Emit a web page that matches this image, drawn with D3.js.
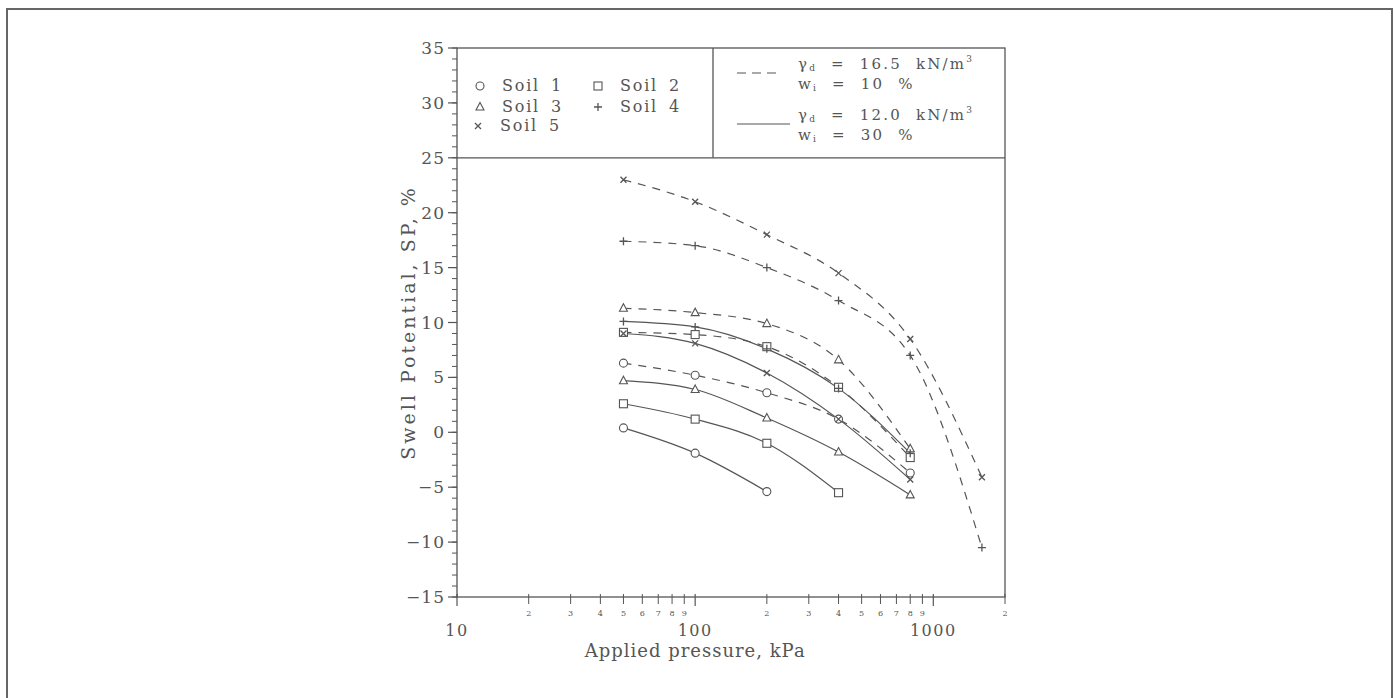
<!DOCTYPE html>
<html>
<head>
<meta charset="utf-8">
<script src="https://cdnjs.cloudflare.com/ajax/libs/d3/7.8.5/d3.min.js"></script>
<style>
  html, body { margin: 0; padding: 0; background: #fff; }
  svg text { font-family: "DejaVu Serif", "Liberation Serif", serif; fill: #555; }
</style>
</head>
<body>
<svg id="chart" width="1397" height="698"></svg>
<script>
// applied pressure (kPa)
var pressures = [50, 100, 200, 400, 800, 1600];

// dashed: gamma_d = 16.5 kN/m3, w_i = 10 %
var dashedSoil1 = [6.3, 5.2, 3.6, 1.2, -3.7];
var dashedSoil2 = [9.1, 8.9, 7.8, 4.1, -2.3];
var dashedSoil3 = [11.3, 10.9, 9.9, 6.6, -1.5];
var dashedSoil4 = [17.4, 17.0, 15.0, 12.0, 7.0, -10.5];
var dashedSoil5 = [23.0, 21.0, 18.0, 14.5, 8.5, -4.1];

// solid: gamma_d = 12.0 kN/m3, w_i = 30 %
var solidSoil1 = [0.4, -1.9, -5.4];
var solidSoil2 = [2.6, 1.2, -1.0, -5.5];
var solidSoil3 = [4.7, 3.9, 1.3, -1.8, -5.7];
var solidSoil4 = [10.1, 9.6, 7.6, 4.0, -1.9];
var solidSoil5 = [9.0, 8.1, 5.4, 1.2, -4.3];

var soilNames = ["Soil 1", "Soil 2", "Soil 3", "Soil 4", "Soil 5"];
var soilMarkers = ["circle", "square", "triangle", "plus", "cross"];

var yTicks = [-15, -10, -5, 0, 5, 10, 15, 20, 25, 30, 35];
var xMajor = [10, 100, 1000];
var xMinor = [20, 30, 40, 50, 60, 70, 80, 90, 200, 300, 400, 500, 600, 700, 800, 900, 2000];

var ink = "#555";

var svg = d3.select("#chart"),
  margin = { top: 48, right: 392, bottom: 101, left: 457 },
  width = +svg.attr("width") - margin.left - margin.right,
  height = +svg.attr("height") - margin.top - margin.bottom;

// outer page border
svg.append("rect")
  .attr("x", 7).attr("y", 9)
  .attr("width", 1385).attr("height", 700)
  .attr("fill", "none")
  .attr("stroke", "#666")
  .attr("stroke-width", 2);

var xScale = d3.scaleLog().domain([10, 2000]).range([0, width]);
var yScale = d3.scaleLinear().domain([-15, 35]).range([height, 0]);

var g = svg.append("g")
  .attr("transform", "translate(" + margin.left + "," + margin.top + ")");

// frame
g.append("rect")
  .attr("width", width).attr("height", height)
  .attr("fill", "none").attr("stroke", ink).attr("stroke-width", 1.3);

// legend box separators
g.append("line")
  .attr("x1", 0).attr("x2", width)
  .attr("y1", yScale(25)).attr("y2", yScale(25))
  .attr("stroke", ink).attr("stroke-width", 1.3);
g.append("line")
  .attr("x1", 256).attr("x2", 256)
  .attr("y1", 0).attr("y2", yScale(25))
  .attr("stroke", ink).attr("stroke-width", 1.3);

// y axis: major ticks with labels, minor ticks every 1
var yMinor = d3.range(-15, 36, 1);
g.selectAll(".ymin").data(yMinor).enter().append("line")
  .attr("x1", -5).attr("x2", 0)
  .attr("y1", function (d) { return yScale(d); })
  .attr("y2", function (d) { return yScale(d); })
  .attr("stroke", ink).attr("stroke-width", 1);
g.selectAll(".ymaj").data(yTicks).enter().append("line")
  .attr("x1", -9).attr("x2", 0)
  .attr("y1", function (d) { return yScale(d); })
  .attr("y2", function (d) { return yScale(d); })
  .attr("stroke", ink).attr("stroke-width", 1.2);
g.selectAll(".ylab").data(yTicks).enter().append("text")
  .attr("x", -12)
  .attr("y", function (d) { return yScale(d) + 6; })
  .attr("text-anchor", "end")
  .style("font-size", "17px")
  .style("letter-spacing", "1px")
  .text(function (d) { return d < 0 ? "\u2212" + Math.abs(d) : d; });

// x axis
g.selectAll(".xmin").data(xMinor).enter().append("line")
  .attr("x1", function (d) { return xScale(d); })
  .attr("x2", function (d) { return xScale(d); })
  .attr("y1", height - 3).attr("y2", height + 7)
  .attr("stroke", ink).attr("stroke-width", 1);
g.selectAll(".xmaj").data(xMajor).enter().append("line")
  .attr("x1", function (d) { return xScale(d); })
  .attr("x2", function (d) { return xScale(d); })
  .attr("y1", height - 3).attr("y2", height + 9)
  .attr("stroke", ink).attr("stroke-width", 1.2);
g.selectAll(".xminlab").data(xMinor).enter().append("text")
  .attr("x", function (d) { return xScale(d); })
  .attr("y", height + 19)
  .attr("text-anchor", "middle")
  .style("font-size", "8px")
  .text(function (d) { return String(d).charAt(0); });
g.selectAll(".xmajlab").data(xMajor).enter().append("text")
  .attr("x", function (d) { return xScale(d); })
  .attr("y", height + 39)
  .attr("text-anchor", "middle")
  .style("font-size", "16px")
  .style("letter-spacing", "1.5px")
  .text(function (d) { return d; });

// axis titles
g.append("text")
  .attr("x", xScale(100))
  .attr("y", height + 60)
  .attr("text-anchor", "middle")
  .style("font-size", "18px")
  .style("letter-spacing", "1px")
  .text("Applied pressure, kPa");
g.append("text")
  .attr("transform", "translate(-42," + (height / 2) + ") rotate(-90)")
  .attr("text-anchor", "middle")
  .style("font-size", "19px")
  .style("letter-spacing", "3px")
  .text("Swell Potential, SP, %");

// marker drawing
function drawMarker(sel, type, x, y) {
  var s = 4;
  if (type === "circle") {
    sel.append("circle").attr("cx", x).attr("cy", y).attr("r", s)
      .attr("fill", "#fff").attr("stroke", ink).attr("stroke-width", 1.1);
  } else if (type === "square") {
    sel.append("rect").attr("x", x - s).attr("y", y - s)
      .attr("width", 2 * s).attr("height", 2 * s)
      .attr("fill", "#fff").attr("stroke", ink).attr("stroke-width", 1.1);
  } else if (type === "triangle") {
    sel.append("path")
      .attr("d", "M" + x + "," + (y - s - 0.5) + "L" + (x + s) + "," + (y + s - 1) + "L" + (x - s) + "," + (y + s - 1) + "Z")
      .attr("fill", "#fff").attr("stroke", ink).attr("stroke-width", 1.1);
  } else if (type === "plus") {
    sel.append("path")
      .attr("d", "M" + (x - s) + "," + y + "H" + (x + s) + "M" + x + "," + (y - s) + "V" + (y + s))
      .attr("stroke", ink).attr("stroke-width", 1.3);
  } else {
    sel.append("path")
      .attr("d", "M" + (x - 3) + "," + (y - 3) + "L" + (x + 3) + "," + (y + 3) + "M" + (x + 3) + "," + (y - 3) + "L" + (x - 3) + "," + (y + 3))
      .attr("stroke", ink).attr("stroke-width", 1.3);
  }
}

var lineGenerator = d3.line()
  .x(function (d) { return xScale(d.p); })
  .y(function (d) { return yScale(d.v); })
  .curve(d3.curveMonotoneX);

var series = [
  { vals: dashedSoil1, soil: 0, dash: true },
  { vals: dashedSoil2, soil: 1, dash: true },
  { vals: dashedSoil3, soil: 2, dash: true },
  { vals: dashedSoil4, soil: 3, dash: true },
  { vals: dashedSoil5, soil: 4, dash: true },
  { vals: solidSoil1, soil: 0, dash: false },
  { vals: solidSoil2, soil: 1, dash: false },
  { vals: solidSoil3, soil: 2, dash: false },
  { vals: solidSoil4, soil: 3, dash: false },
  { vals: solidSoil5, soil: 4, dash: false }
];

series.forEach(function (s) {
  var pts = s.vals.map(function (v, i) { return { p: pressures[i], v: v }; });
  g.append("path")
    .datum(pts)
    .attr("fill", "none")
    .attr("stroke", ink)
    .attr("stroke-width", 1.2)
    .attr("stroke-dasharray", s.dash ? "8,7" : null)
    .attr("d", lineGenerator);
});
series.forEach(function (s) {
  s.vals.forEach(function (v, i) {
    drawMarker(g, soilMarkers[s.soil], xScale(pressures[i]), yScale(v));
  });
});

// legend: soils
var legendPos = [[23, 38], [141, 38], [23, 59], [141, 59], [21, 78]];
soilNames.forEach(function (name, i) {
  var lp = legendPos[i];
  drawMarker(g, soilMarkers[i], lp[0], lp[1]);
  g.append("text")
    .attr("x", lp[0] + 22).attr("y", lp[1] + 5)
    .style("font-size", "16px")
    .style("letter-spacing", "1.8px")
    .style("word-spacing", "4px")
    .text(name);
});

// legend: line types
function legendEntry(y, dash, gamma, w) {
  g.append("line")
    .attr("x1", 280).attr("x2", dash ? 325 : 333)
    .attr("y1", y).attr("y2", y)
    .attr("stroke", ink).attr("stroke-width", 1.2)
    .attr("stroke-dasharray", dash ? "9,6" : null);
  var t1 = g.append("text").attr("x", 341).attr("y", y - 4)
    .style("font-size", "15px").style("letter-spacing", "2.2px");
  t1.append("tspan").text("\u03b3");
  t1.append("tspan").attr("dy", 2).style("font-size", "9px").text("d");
  t1.append("tspan").attr("dy", -2).attr("xml:space", "preserve").text("  =  " + gamma + "  kN/m");
  t1.append("tspan").attr("dy", -7).style("font-size", "9px").text("3");
  var t2 = g.append("text").attr("x", 341).attr("y", y + 16)
    .style("font-size", "15px").style("letter-spacing", "2.2px");
  t2.append("tspan").text("w");
  t2.append("tspan").attr("dy", 2).style("font-size", "9px").text("i");
  t2.append("tspan").attr("dy", -2).attr("xml:space", "preserve").text("  =  " + w + "  %");
}
legendEntry(25, true, "16.5", "10");
legendEntry(76, false, "12.0", "30");
</script>
</body>
</html>
